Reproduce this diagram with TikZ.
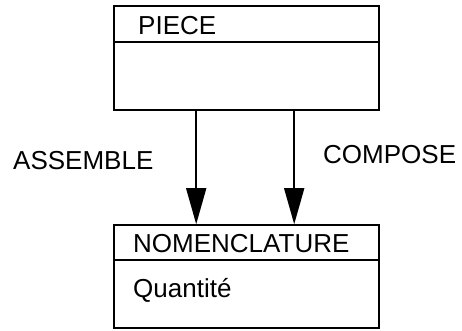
\documentclass[tikz,border=0pt]{standalone}
\usepackage{fontspec}
\setmainfont{Liberation Sans}
\usepackage{tikz}
\usetikzlibrary{positioning}
\usetikzlibrary{arrows.meta}
\usetikzlibrary{calc}
\tikzstyle{entity}=[rectangle,draw=black,line width=1.6pt,minimum width=265pt,inner sep=0pt]
\tikzstyle{link} = [draw,line width=1.6pt,-{Triangle[length=36pt,width=20pt]}]
\tikzstyle{divider} = [draw,line width=1.6pt]
\tikzstyle{lbl} = [anchor=base west,inner sep=0pt,font=\fontsize{26}{30}\selectfont]
\tikzset{nd/.style={rectangle,draw,align=center}}
\begin{document}
\begin{tikzpicture}[x=1pt,y=-1pt]

 \useasboundingbox (0,0) rectangle (462,331);

 %boxes
   \foreach \x/\y/\h/\name in {246.5/58/104/piece, 246.5/276.5/103/nomen}
          \node[entity,minimum height=\h pt] (\name) at (\x,\y) {};

 %dividers
  \path[divider] ($(piece.north west)+(0,37)$) -- ($(piece.north east)+(0,37)$);
  \path[divider] ($(nomen.north west)+(0,36)$) -- ($(nomen.north east)+(0,36)$);

 %texts
   \foreach \x/\y/\name/\label in {138/35/tpiece/PIECE, 133/252/tnomen/NOMENCLATURE, 133/297/tqte/Quantité, 13/169/tass/ASSEMBLE, 323/163/tcomp/COMPOSE}
          \node[lbl] (\name) at (\x,\y) {\label};

 %links
  \foreach \dx in {83, 181}
         \path[link] ([xshift=\dx pt]piece.south west) -- ([xshift=\dx pt]nomen.north west);

\end{tikzpicture}
\end{document}
